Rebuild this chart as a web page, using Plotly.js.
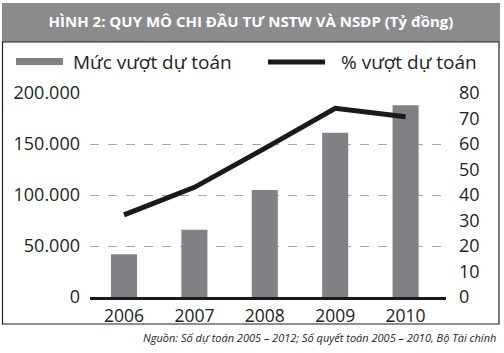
<!DOCTYPE html>
<html>
<head>
<meta charset="utf-8">
<script src="https://cdn.plot.ly/plotly-3.0.1.min.js"></script>
<style>html,body{margin:0;padding:0;background:#fff;}#chart{width:504px;height:353px;}</style>
</head>
<body>
<div id="chart"></div>
<script>
const years = ['2006', '2007', '2008', '2009', '2010'];
const barName = 'Mức vượt dự toán';
const lineName = '% vượt dự toán';
const barValues = [42000, 66000, 105000, 161000, 188000];
const lineValues = [32.2, 43.0, 58.3, 74.0, 70.7];
const leftTicks = [0, 50000, 100000, 150000, 200000];
const rightTicks = [0, 10, 20, 30, 40, 50, 60, 70, 80];
const titleText = '<b>HÌNH 2: QUY MÔ CHI ĐẦU TƯ NSTW VÀ NSĐP (Tỷ đồng)</b>';
const sourceText = 'Nguồn: Số dự toán 2005 – 2012; Số quyết toán 2005 – 2010, Bộ Tài chính';

const FONT = '"Open Sans", "Noto Sans", sans-serif';
const TXT = '#231f20';
const BAR = '#808184';

// plot-area pixel geometry helpers for decoration
const L = 90, R = 446, T = 93, B = 297;
const px = x => (x - L) / (R - L);
const py = y => (B - y) / (B - T);

const traces = [
  {type: 'bar', x: years, y: barValues, name: barName, marker: {color: BAR}, yaxis: 'y', showlegend: false, hoverinfo: 'none'},
  {type: 'scatter', mode: 'lines', x: years, y: lineValues, name: lineName, line: {color: '#1a1a1a', width: 5}, yaxis: 'y2', showlegend: false, hoverinfo: 'none'}
];

const layout = {
  width: 504, height: 353,
  margin: {l: L, r: 504 - R, t: T, b: 353 - B, pad: 0},
  paper_bgcolor: '#fff', plot_bgcolor: 'rgba(0,0,0,0)',
  separators: ',.',
  bargap: 0.63,
  font: {family: FONT, color: TXT, size: 17},
  title: {text: titleText, font: {family: FONT, size: 15, color: '#fff'}, x: 251 / 504, xanchor: 'center', xref: 'container', y: 1 - 22 / 353, yanchor: 'middle', yref: 'container'},
  xaxis: {type: 'category', range: [-0.483, 4.574], showline: true, linecolor: '#1a1a1a', linewidth: 3, ticks: '', tickfont: {size: 17.5, color: TXT}, ticklabelstandoff: 1, showgrid: false, zeroline: false, fixedrange: true},
  yaxis: {range: [0, 200000], tickvals: leftTicks, tickformat: ',d', showgrid: true, gridcolor: '#a7a7a7', griddash: 'dash', gridwidth: 1, zeroline: false, ticks: '', ticklabelstandoff: 9, tickfont: {size: 18, color: TXT}, fixedrange: true},
  yaxis2: {range: [0, 80], tickvals: rightTicks, overlaying: 'y', side: 'right', showgrid: false, zeroline: false, ticks: '', ticklabelstandoff: 12, tickfont: {size: 18, color: TXT}, fixedrange: true},
  shapes: [
    {type: 'rect', xref: 'paper', yref: 'paper', x0: px(2), x1: px(500), y0: py(42), y1: py(3), fillcolor: '#8b8b8e', line: {width: 0}, layer: 'below'},
    {type: 'rect', xref: 'paper', yref: 'paper', x0: px(2.5), x1: px(499), y0: py(324), y1: py(42), fillcolor: 'rgba(0,0,0,0)', line: {color: '#231f20', width: 1.2}, layer: 'below'},
    {type: 'rect', xref: 'paper', yref: 'paper', x0: px(16), x1: px(63), y0: py(65), y1: py(58), fillcolor: BAR, line: {width: 0}},
    {type: 'line', xref: 'paper', yref: 'paper', x0: px(268), x1: px(325), y0: py(62), y1: py(62), line: {color: '#1a1a1a', width: 5}}
  ],
  annotations: [
    {text: barName, xref: 'paper', yref: 'paper', x: px(71), y: py(62), xanchor: 'left', yanchor: 'middle', showarrow: false, font: {size: 19, color: TXT}},
    {text: lineName, xref: 'paper', yref: 'paper', x: px(339), y: py(62), xanchor: 'left', yanchor: 'middle', showarrow: false, font: {size: 19, color: TXT}},
    {text: '<i>' + sourceText + '</i>', xref: 'paper', yref: 'paper', x: px(498), y: py(337), xanchor: 'right', yanchor: 'middle', showarrow: false, font: {family: FONT, size: 11, color: TXT}}
  ]
};

Plotly.newPlot('chart', traces, layout, {displayModeBar: false, staticPlot: true});
</script>
</body>
</html>
